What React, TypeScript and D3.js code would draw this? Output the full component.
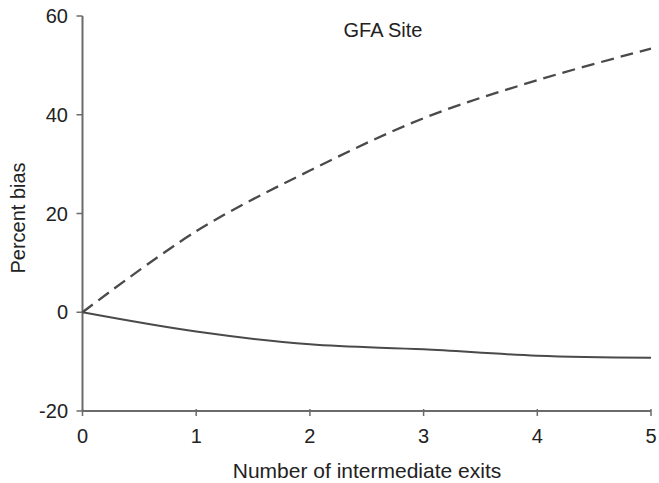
import React from "react";
import * as d3 from "d3";

const exits = [0, 1, 2, 3, 4, 5];
const dashedSeries = [0, 16.4, 28.7, 39.3, 47.0, 53.4];
const solidSeries = [0, -3.9, -6.5, -7.5, -8.8, -9.2];
const yTicks = [-20, 0, 20, 40, 60];
const xTicks = [0, 1, 2, 3, 4, 5];

export default function App() {
  const W = 659, H = 483;
  const x = d3.scaleLinear().domain([0, 5]).range([82.5, 651]);
  const y = d3.scaleLinear().domain([-20, 60]).range([411, 16]);
  const line = d3
    .line<number>()
    .x((_, i) => x(exits[i]))
    .y((d) => y(d))
    .curve(d3.curveCatmullRom.alpha(0.5));
  const font = "'Liberation Sans', Arial, sans-serif";
  const axisColor = "#6b6b6b";
  return (
    <svg width={W} height={H} style={{ position: "absolute", left: 0, top: 0, background: "#fff" }} fontFamily={font}>
      <line x1={x(0)} x2={x(0)} y1={y(60)} y2={y(-20)} stroke={axisColor} strokeWidth={2} />
      <line x1={x(0)} x2={x(5)} y1={y(-20)} y2={y(-20)} stroke={axisColor} strokeWidth={2} />
      {yTicks.map((t) => (
        <g key={"y" + t}>
          <line x1={x(0) - 6} x2={x(0)} y1={y(t)} y2={y(t)} stroke={axisColor} strokeWidth={1.5} />
          <text x={68} y={y(t)} dy="0.36em" textAnchor="end" fontSize={20} fill="#222">
            {t}
          </text>
        </g>
      ))}
      {xTicks.map((t) => (
        <g key={"x" + t}>
          <line x1={x(t)} x2={x(t)} y1={y(-20) - 2} y2={y(-20) + 5} stroke={axisColor} strokeWidth={1.5} />
          <text x={x(t)} y={443} textAnchor="middle" fontSize={20} fill="#222">
            {t}
          </text>
        </g>
      ))}
      <path d={line(dashedSeries) || ""} fill="none" stroke="#4a4a4a" strokeWidth={2.3} strokeDasharray="13,7" />
      <path d={line(solidSeries) || ""} fill="none" stroke="#4a4a4a" strokeWidth={2} />
      <text x={383} y={37} textAnchor="middle" fontSize={20} fill="#222">
        GFA Site
      </text>
      <text x={367} y={478} textAnchor="middle" fontSize={21} fill="#222">
        Number of intermediate exits
      </text>
      <text transform={`translate(25, 218) rotate(-90)`} textAnchor="middle" fontSize={20} fill="#222">
        Percent bias
      </text>
    </svg>
  );
}
